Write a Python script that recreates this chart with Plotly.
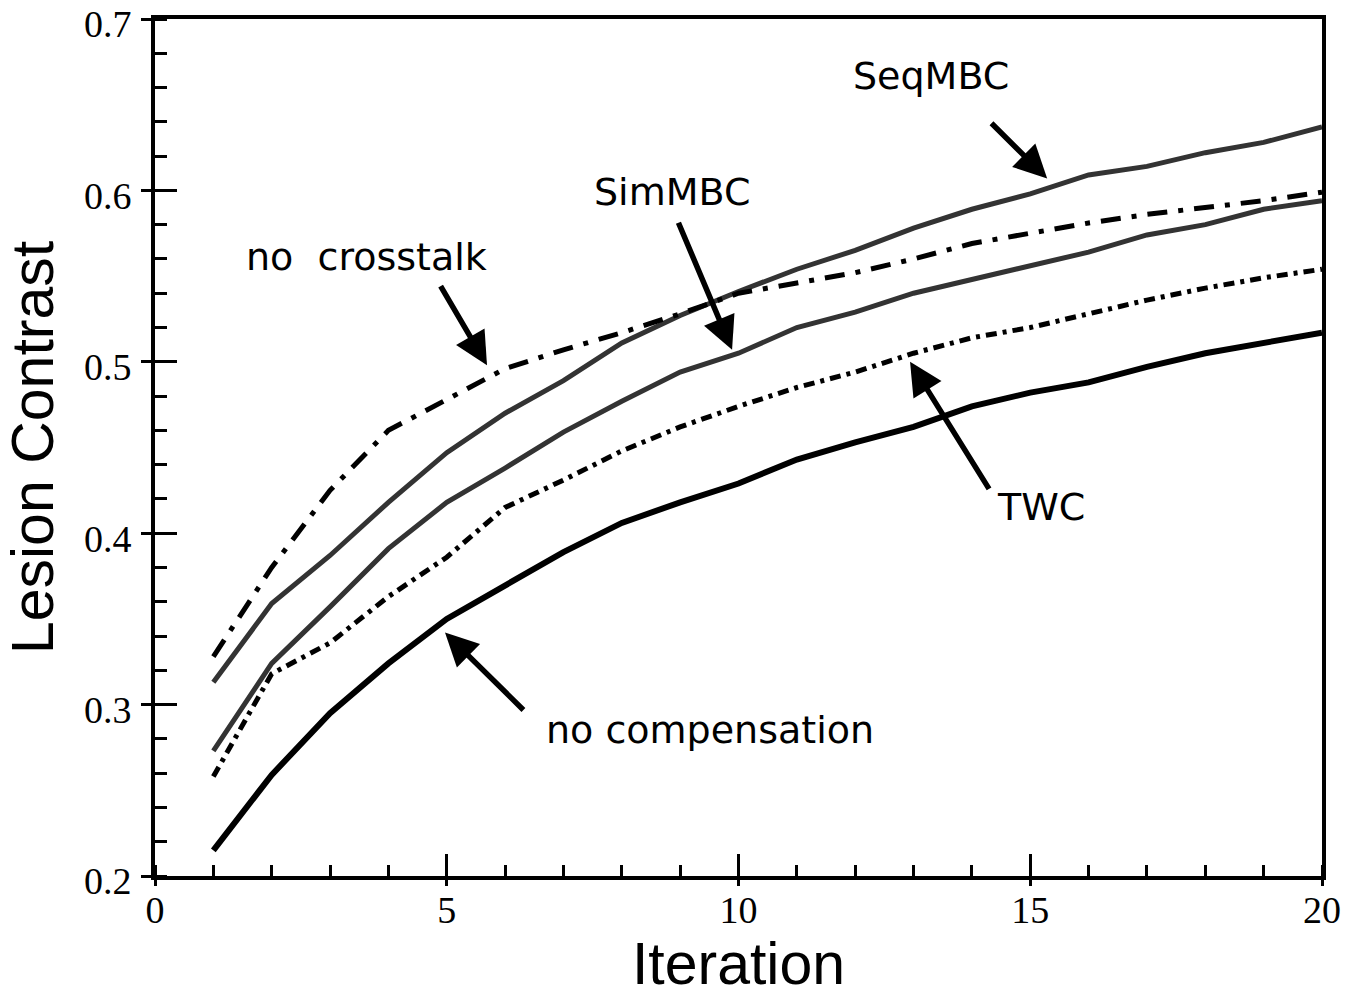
import plotly.graph_objects as go

iterations = list(range(1, 21))
no_compensation = [0.215, 0.259, 0.295, 0.324, 0.350, 0.370, 0.389, 0.406, 0.418, 0.429,
                   0.443, 0.453, 0.462, 0.474, 0.482, 0.488, 0.497, 0.505, 0.511, 0.517]
twc = [0.258, 0.318, 0.336, 0.363, 0.386, 0.415, 0.431, 0.448, 0.462, 0.474,
       0.485, 0.494, 0.505, 0.514, 0.520, 0.528, 0.536, 0.543, 0.549, 0.554]
sim_mbc = [0.273, 0.324, 0.357, 0.391, 0.418, 0.438, 0.459, 0.477, 0.494, 0.505,
           0.520, 0.529, 0.540, 0.548, 0.556, 0.564, 0.574, 0.580, 0.589, 0.594]
seq_mbc = [0.313, 0.359, 0.387, 0.418, 0.447, 0.470, 0.489, 0.511, 0.527, 0.541,
           0.554, 0.565, 0.578, 0.589, 0.598, 0.609, 0.614, 0.622, 0.628, 0.637]
no_crosstalk = [0.328, 0.380, 0.425, 0.460, 0.478, 0.496, 0.507, 0.517, 0.528, 0.540,
                0.546, 0.552, 0.560, 0.569, 0.575, 0.581, 0.586, 0.590, 0.594, 0.599]

x_ticks = [0, 5, 10, 15, 20]
y_ticks = [0.2, 0.3, 0.4, 0.5, 0.6, 0.7]

# labels: (text, text_x, text_y, tail_x, tail_y, head_x, head_y)
labels = [
    ("SeqMBC", 13.30, 0.667, 14.31, 0.640, 15.29, 0.607),
    ("SimMBC", 8.86, 0.599, 8.96, 0.582, 9.89, 0.507),
    ("no  crosstalk", 3.63, 0.561, 4.88, 0.545, 5.69, 0.498),
    ("TWC", 15.18, 0.415, 14.31, 0.425, 12.94, 0.500),
    ("no compensation", 9.51, 0.285, 6.34, 0.296, 4.97, 0.342),
]

fig = go.Figure()
fig.add_trace(go.Scatter(x=iterations, y=no_compensation, mode="lines",
                         line=dict(color="black", width=6), name="no compensation"))
fig.add_trace(go.Scatter(x=iterations, y=twc, mode="lines",
                         line=dict(color="black", width=5, dash="11px,6px,4px,6px"), name="TWC"))
fig.add_trace(go.Scatter(x=iterations, y=sim_mbc, mode="lines",
                         line=dict(color="#333333", width=5), name="SimMBC"))
fig.add_trace(go.Scatter(x=iterations, y=seq_mbc, mode="lines",
                         line=dict(color="#333333", width=5), name="SeqMBC"))
fig.add_trace(go.Scatter(x=iterations, y=no_crosstalk, mode="lines",
                         line=dict(color="black", width=5, dash="20px,11px,5px,11px"), name="no crosstalk"))
# invisible trace for overlay axes (inside tick marks)
fig.add_trace(go.Scatter(x=[None], y=[None], xaxis="x2", yaxis="y2", showlegend=False,
                         hoverinfo="skip"))

for text, tx, ty, ax_, ay_, hx, hy in labels:
    fig.add_annotation(x=tx, y=ty, xref="x", yref="y", text=text, showarrow=False,
                       font=dict(family="DejaVu Sans", size=38, color="black"))
    fig.add_annotation(x=hx, y=hy, ax=ax_, ay=ay_, xref="x", yref="y", axref="x", ayref="y",
                       text="", showarrow=True, arrowhead=2, arrowsize=1.2, arrowwidth=5.5,
                       arrowcolor="black")

tick_font = dict(family="Liberation Serif", size=38, color="black")
title_font = dict(family="Liberation Sans", size=59, color="black")

fig.update_layout(
    width=1358, height=1000,
    margin=dict(l=155, r=36, t=19, b=124),
    paper_bgcolor="white", plot_bgcolor="white",
    showlegend=False,
    xaxis=dict(range=[0, 20], tickvals=x_ticks, ticktext=[str(v) for v in x_ticks],
               ticks="outside", ticklen=6, tickwidth=3, tickcolor="black",
               minor=dict(dtick=1, ticks="inside", ticklen=11, tickwidth=3, tickcolor="black"),
               showline=True, linewidth=4, linecolor="black", mirror=True,
               showgrid=False, zeroline=False, tickfont=tick_font, automargin=False,
               ticklabeloverflow="allow", ticklabelstandoff=-9,
               title=dict(text="Iteration", font=title_font, standoff=14)),
    yaxis=dict(range=[0.2, 0.7], tickvals=y_ticks, ticktext=[f"{v:.1f}" for v in y_ticks],
               ticks="outside", ticklen=10, tickwidth=3, tickcolor="black",
               minor=dict(dtick=0.02, ticks="inside", ticklen=12, tickwidth=3, tickcolor="black"),
               showline=True, linewidth=4, linecolor="black", mirror=True,
               showgrid=False, zeroline=False, tickfont=tick_font, automargin=False,
               ticklabeloverflow="allow", ticklabelshift=5, ticklabelstandoff=2,
               title=dict(text="Lesion Contrast", font=title_font, standoff=14)),
    xaxis2=dict(range=[0, 20], overlaying="x", anchor="y", side="bottom",
                tickvals=x_ticks, ticks="inside", ticklen=22, tickwidth=3, tickcolor="black",
                showticklabels=False, showgrid=False, zeroline=False, showline=False,
                automargin=False),
    yaxis2=dict(range=[0.2, 0.7], overlaying="y", anchor="x", side="left",
                tickvals=y_ticks, ticks="inside", ticklen=22, tickwidth=3, tickcolor="black",
                showticklabels=False, showgrid=False, zeroline=False, showline=False,
                automargin=False),
)

fig.write_html("out.html")
